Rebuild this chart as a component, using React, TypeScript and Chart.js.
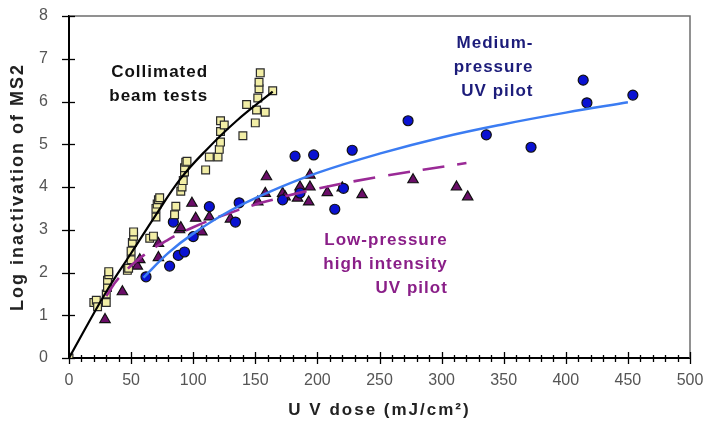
import { useEffect, useRef } from "react";
import { Chart, registerables } from "chart.js";

Chart.register(...registerables);

// ---- data ----
const collimatedPoints: [number, number][] = [
  [0, 0], [20, 1.3], [22, 1.35], [23, 1.2], [30, 1.3], [30, 1.5], [31, 1.65], [31, 1.82],
  [32, 1.95], [32, 2.02], [47, 2.05], [48, 2.1], [50, 2.3], [50, 2.5], [51, 2.7], [52, 2.85],
  [52, 2.95], [65, 2.8], [68, 2.85], [70, 3.3], [70, 3.5], [71, 3.6], [72, 3.7], [73, 3.75],
  [85, 3.35], [86, 3.55], [90, 3.9], [91, 4.0], [92, 4.15], [93, 4.35], [93, 4.45], [94, 4.58],
  [95, 4.6], [110, 4.4], [113, 4.7], [120, 4.7], [121, 4.88], [122, 5.05], [122, 5.3],
  [122, 5.55], [125, 5.45], [140, 5.2], [143, 5.93], [150, 5.5], [151, 5.8], [152, 6.08],
  [153, 6.3], [153, 6.45], [154, 6.67], [158, 5.75], [164, 6.25],
];

const mediumPressurePoints: [number, number][] = [
  [62, 1.9], [81, 2.15], [88, 2.4], [93, 2.48], [100, 2.84], [84, 3.18], [113, 3.54],
  [134, 3.18], [137, 3.63], [172, 3.7], [182, 4.72], [186, 3.86], [197, 4.75], [214, 3.48],
  [221, 3.97], [228, 4.86], [273, 5.55], [336, 5.22], [372, 4.93], [414, 6.5], [417, 5.97],
  [454, 6.15],
];

const lowPressurePoints: [number, number][] = [
  [29, 0.9], [43, 1.55], [55, 2.15], [57, 2.3], [72, 2.35], [72, 2.68], [89, 3.0], [90, 3.05],
  [99, 3.62], [102, 3.27], [107, 2.95], [113, 3.3], [130, 3.25], [152, 3.65], [158, 3.85],
  [159, 4.24], [172, 3.85], [174, 3.77], [184, 3.74], [186, 4.0], [193, 3.65], [194, 4.0],
  [194, 4.28], [208, 3.87], [220, 3.98], [236, 3.82], [277, 4.17], [312, 4.0], [321, 3.77],
];

const collimatedTrend: [number, number][] = [
  [0, 0], [30, 1.55], [50, 2.45], [70, 3.35], [90, 4.2], [110, 4.85], [135, 5.55], [164, 6.23],
];

const mediumPressureTrend: [number, number][] = [
  [60, 1.88], [80, 2.46], [100, 2.91], [130, 3.45], [160, 3.87], [200, 4.33], [250, 4.78],
  [300, 5.16], [350, 5.47], [400, 5.74], [450, 5.98],
];

const lowPressureTrend: [number, number][] = [
  [30, 1.45], [40, 1.87], [60, 2.4], [80, 2.77], [100, 3.06], [130, 3.4], [160, 3.67],
  [200, 3.96], [250, 4.24], [320, 4.56],
];

const xTickValues = [0, 50, 100, 150, 200, 250, 300, 350, 400, 450, 500];
const yTickValues = [0, 1, 2, 3, 4, 5, 6, 7, 8];

const xTitle = "U V dose (mJ/cm²)";
const yTitle = "Log inactivation of MS2";

const collimatedLabel = ["Collimated", "beam tests"];
const mediumPressureLabel = ["Medium-", "pressure", "UV pilot"];
const lowPressureLabel = ["Low-pressure", "high intensity", "UV pilot"];

const toXY = (pts: [number, number][]) => pts.map(([x, y]) => ({ x, y }));

const annotations = [
  { lines: collimatedLabel, x: 112, y: 6.69, color: "#111111" },
  { lines: mediumPressureLabel, x: 374, y: 7.37, color: "#1c1c7a" },
  { lines: lowPressureLabel, x: 305, y: 2.76, color: "#8a1f88" },
];

const overlayPlugin = {
  id: "overlay",
  afterDatasetsDraw(chart: any) {
    const { ctx, chartArea } = chart;
    const { left, right, top, bottom } = chartArea;
    const xs = chart.scales.x;
    const ys = chart.scales.y;
    ctx.save();
    // top / right frame
    ctx.strokeStyle = "#6e6e6e";
    ctx.lineWidth = 1.5;
    ctx.beginPath();
    ctx.moveTo(left, top);
    ctx.lineTo(right, top);
    ctx.lineTo(right, bottom);
    ctx.stroke();
    // x ticks (major + minor)
    ctx.strokeStyle = "#000";
    ctx.lineWidth = 1.3;
    for (let v = 0; v <= 500; v += 10) {
      const px = Math.round(xs.getPixelForValue(v)) + 0.5;
      const major = v % 50 === 0;
      ctx.beginPath();
      ctx.moveTo(px, bottom - (major ? 6 : 3));
      ctx.lineTo(px, bottom + (major ? 6 : 4));
      ctx.stroke();
    }
    // y ticks
    for (const v of yTickValues) {
      const py = Math.round(ys.getPixelForValue(v)) + 0.5;
      ctx.beginPath();
      ctx.moveTo(left - 7, py);
      ctx.lineTo(left + 6, py);
      ctx.stroke();
    }
    // axis titles (letter-spaced)
    ctx.fillStyle = "#222222";
    ctx.textAlign = "center";
    ctx.textBaseline = "middle";
    (ctx as any).letterSpacing = "2px";
    ctx.font = "bold 17px 'Liberation Sans', Arial, sans-serif";
    ctx.fillText(xTitle, (left + right) / 2, bottom + 52);
    ctx.save();
    ctx.translate(left - 51, (top + bottom) / 2);
    ctx.rotate(-Math.PI / 2);
    ctx.font = "bold 18px 'Liberation Sans', Arial, sans-serif";
    ctx.fillText(yTitle, 0, 0);
    ctx.restore();
    // annotations
    ctx.font = "bold 17px 'Liberation Sans', Arial, sans-serif";
    (ctx as any).letterSpacing = "1px";
    ctx.textAlign = "right";
    ctx.textBaseline = "middle";
    for (const a of annotations) {
      const ax = xs.getPixelForValue(a.x);
      const ay = ys.getPixelForValue(a.y);
      ctx.fillStyle = a.color;
      a.lines.forEach((line, i) => ctx.fillText(line, ax, ay + i * 24));
    }
    ctx.restore();
  },
};

export default function App() {
  const canvasRef = useRef<HTMLCanvasElement | null>(null);

  useEffect(() => {
    document.body.style.margin = "0";
    const canvas = canvasRef.current;
    if (!canvas) return;
    const tickFont = { family: "'Liberation Sans Narrow', 'Liberation Sans', Arial, sans-serif", size: 16 };
    const chart = new Chart(canvas, {
      type: "scatter",
      data: {
        datasets: [
          {
            label: "Collimated trend",
            data: toXY(collimatedTrend),
            showLine: true,
            borderColor: "#000000",
            borderWidth: 2.2,
            pointRadius: 0,
            tension: 0.4,
            order: 0,
          },
          {
            label: "Medium-pressure trend",
            data: toXY(mediumPressureTrend),
            showLine: true,
            borderColor: "#3b7cf2",
            borderWidth: 2.5,
            pointRadius: 0,
            tension: 0.4,
            order: 0,
          },
          {
            label: "Low-pressure trend",
            data: toXY(lowPressureTrend),
            showLine: true,
            borderColor: "#9a2a96",
            borderWidth: 2.6,
            borderDash: [22, 13],
            pointRadius: 0,
            tension: 0.4,
            order: 0,
          },
          {
            label: "Collimated beam tests",
            data: toXY(collimatedPoints),
            pointStyle: "rect",
            pointRadius: 5.5,
            backgroundColor: "#f2eea6",
            borderColor: "#2a2a2a",
            borderWidth: 1.2,
            order: 1,
          },
          {
            label: "Medium-pressure UV pilot",
            data: toXY(mediumPressurePoints),
            pointStyle: "circle",
            pointRadius: 5,
            backgroundColor: "#0a12d2",
            borderColor: "#111111",
            borderWidth: 1.2,
            order: 2,
          },
          {
            label: "Low-pressure high intensity UV pilot",
            data: toXY(lowPressurePoints),
            pointStyle: "triangle",
            pointRadius: 6,
            backgroundColor: "#6a0d68",
            borderColor: "#111111",
            borderWidth: 1.2,
            order: 3,
          },
        ],
      },
      options: {
        responsive: false,
        animation: false,
        layout: { padding: 0 },
        plugins: { legend: { display: false }, tooltip: { enabled: false } },
        scales: {
          x: {
            type: "linear",
            min: 0,
            max: 500,
            afterBuildTicks: (s: any) => {
              s.ticks = xTickValues.map((v) => ({ value: v }));
            },
            afterFit: (s: any) => {
              s.height = 67;
              s.paddingLeft = 0;
              s.paddingRight = 19;
            },
            grid: { display: false, drawTicks: false },
            border: { display: true, color: "#000", width: 2 },
            ticks: { color: "#555555", font: tickFont, padding: 13, maxRotation: 0 },
            title: { display: false, text: xTitle },
          },
          y: {
            type: "linear",
            min: 0,
            max: 8,
            afterBuildTicks: (s: any) => {
              s.ticks = yTickValues.map((v) => ({ value: v }));
            },
            afterFit: (s: any) => {
              s.width = 69;
              s.paddingTop = 16;
              s.paddingBottom = 0;
            },
            grid: { display: false, drawTicks: false },
            border: { display: true, color: "#000", width: 2 },
            ticks: { color: "#555555", font: tickFont, padding: 21 },
            title: { display: false, text: yTitle },
          },
        },
      },
      plugins: [overlayPlugin],
    });
    return () => chart.destroy();
  }, []);

  return (
    <div style={{ width: 709, height: 425, background: "#fff" }}>
      <canvas ref={canvasRef} width={709} height={425} />
    </div>
  );
}
